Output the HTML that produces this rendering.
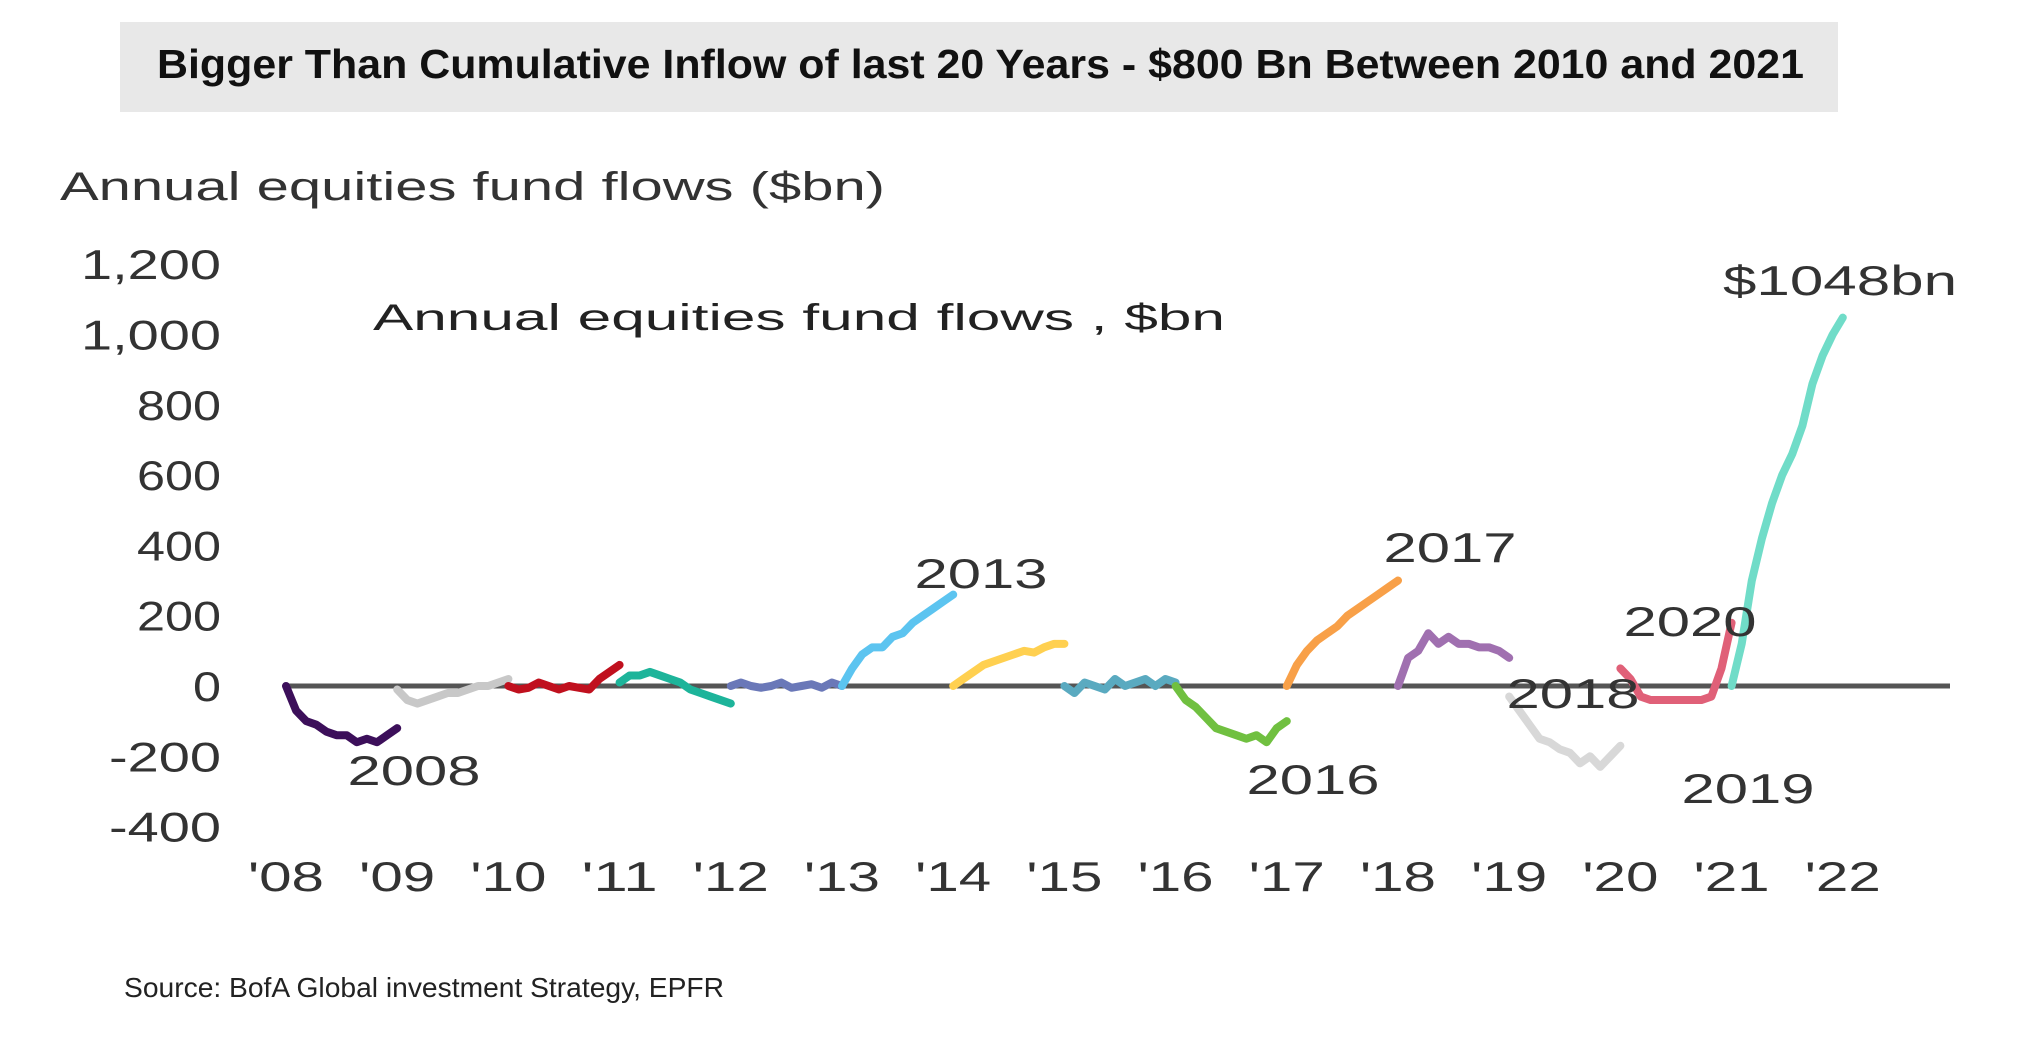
<!DOCTYPE html>
<html><head><meta charset="utf-8"><style>
body{margin:0;background:#fff;width:2018px;height:1039px;overflow:hidden;font-family:"Liberation Sans",sans-serif}
</style></head><body>
<svg width="2018" height="1039" viewBox="0 0 2018 1039">
<rect x="120" y="22" width="1718" height="90" fill="#e8e8e8"/>
<text x="157" y="78" font-size="41" font-weight="bold" fill="#111" textLength="1647" lengthAdjust="spacingAndGlyphs">Bigger Than Cumulative Inflow of last 20 Years - $800 Bn Between 2010 and 2021</text>
<text x="60" y="200" font-size="40" fill="#333" textLength="825" lengthAdjust="spacingAndGlyphs">Annual equities fund flows ($bn)</text>
<text x="373" y="330" font-size="37" fill="#222" textLength="852" lengthAdjust="spacingAndGlyphs">Annual equities fund flows , $bn</text>
<g id="yt"></g><g id="xt"></g>
<line id="zero" stroke="#555" stroke-width="5"/>
<g id="series"></g>
<g font-size="42" fill="#333" text-anchor="middle" lengthAdjust="spacingAndGlyphs">
<text x="981" y="588" textLength="133" lengthAdjust="spacingAndGlyphs">2013</text>
<text x="1450" y="562" textLength="133" lengthAdjust="spacingAndGlyphs">2017</text>
<text x="1840" y="295" textLength="234" lengthAdjust="spacingAndGlyphs">$1048bn</text>
<text x="1690" y="636" textLength="133" lengthAdjust="spacingAndGlyphs">2020</text>
<text x="1573" y="708" textLength="133" lengthAdjust="spacingAndGlyphs">2018</text>
<text x="414" y="785" textLength="133" lengthAdjust="spacingAndGlyphs">2008</text>
<text x="1313" y="794" textLength="133" lengthAdjust="spacingAndGlyphs">2016</text>
<text x="1748" y="803" textLength="133" lengthAdjust="spacingAndGlyphs">2019</text>
</g>
<text x="124" y="997" font-size="28" fill="#222" textLength="600" lengthAdjust="spacingAndGlyphs">Source: BofA Global investment Strategy, EPFR</text>
</svg>
<script>
const yTicks=[1200,1000,800,600,400,200,0,-200,-400];
const yTickLabels=["1,200","1,000","800","600","400","200","0","-200","-400"];
const xTickLabels=["'08","'09","'10","'11","'12","'13","'14","'15","'16","'17","'18","'19","'20","'21","'22"];
const years=[2008,2009,2010,2011,2012,2013,2014,2015,2016,2017,2018,2019,2020,2021];
const v2008=[0,-70,-100,-110,-130,-140,-140,-160,-150,-160,-140,-120];
const v2009=[-10,-40,-50,-40,-30,-20,-20,-10,0,0,10,20];
const v2010=[0,-10,-5,10,0,-10,0,-5,-10,20,40,60];
const v2011=[10,30,30,40,30,20,10,-10,-20,-30,-40,-50];
const v2012=[0,10,0,-5,0,10,-5,0,5,-5,10,0];
const v2013=[0,50,90,110,110,140,150,180,200,220,240,260];
const v2014=[0,20,40,60,70,80,90,100,95,110,120,120];
const v2015=[0,-20,10,0,-10,20,0,10,20,0,20,10];
const v2016=[0,-40,-60,-90,-120,-130,-140,-150,-140,-160,-120,-100];
const v2017=[0,60,100,130,150,170,200,220,240,260,280,300];
const v2018=[0,80,100,150,120,140,120,120,110,110,100,80];
const v2019=[-30,-70,-110,-150,-160,-180,-190,-220,-200,-230,-200,-170];
const v2020=[50,20,-30,-40,-40,-40,-40,-40,-40,-30,50,180];
const v2021=[0,120,300,420,520,600,660,740,860,940,1000,1048];
const seriesValues=[v2008,v2009,v2010,v2011,v2012,v2013,v2014,v2015,v2016,v2017,v2018,v2019,v2020,v2021];
const colors=["#3c0f5a","#c8c8c8","#c0101e","#1db49a","#6a78b8","#5cc4f0","#ffd050","#5aaac0","#70c040","#f8a048","#a070b0","#d8d8d8","#e06078","#70dcc8"];
const NS="http://www.w3.org/2000/svg";
const yS=v=>686-v*70.3/200;
const xS=yr=>286+(yr-2008)*111.2;
const yt=document.getElementById('yt');
yTicks.forEach((t,i)=>{const e=document.createElementNS(NS,'text');e.setAttribute('x',221);e.setAttribute('y',yS(t)+15);e.setAttribute('text-anchor','end');e.setAttribute('font-size','42');e.setAttribute('fill','#333');e.setAttribute('textLength',yTickLabels[i].length*28);e.setAttribute('lengthAdjust','spacingAndGlyphs');e.textContent=yTickLabels[i];


yt.appendChild(e);});
const xt=document.getElementById('xt');
xTickLabels.forEach((t,i)=>{const e=document.createElementNS(NS,'text');e.setAttribute('x',xS(2008+i));e.setAttribute('y',891);e.setAttribute('text-anchor','middle');e.setAttribute('font-size','42');e.setAttribute('fill','#333');e.setAttribute('textLength','76');e.setAttribute('lengthAdjust','spacingAndGlyphs');e.textContent=t;


xt.appendChild(e);});
const z=document.getElementById('zero');z.setAttribute('x1',xS(2008));z.setAttribute('x2',1950);z.setAttribute('y1',yS(0));z.setAttribute('y2',yS(0));
const g=document.getElementById('series');
seriesValues.forEach((vals,k)=>{const n=vals.length;const pts=vals.map((v,i)=>xS(years[k]+i/(n-1))+','+yS(v)).join(' ');
const p=document.createElementNS(NS,'polyline');p.setAttribute('points',pts);p.setAttribute('fill','none');p.setAttribute('stroke',colors[k]);p.setAttribute('stroke-width','8');p.setAttribute('stroke-linejoin','round');p.setAttribute('stroke-linecap','round');


g.appendChild(p);});
</script>
</body></html>
